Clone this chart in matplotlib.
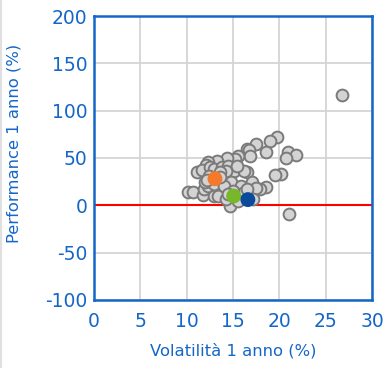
import numpy as np
import matplotlib.pyplot as plt
from matplotlib.lines import Line2D

plt.rcParams['axes.unicode_minus'] = False

# Volatilità e performance a 1 anno dei fondi della categoria
vol_peers = [26.8, 19.7, 18.95, 17.5, 16.5, 16.7, 16.8, 18.6, 20.9, 21.8, 20.75,
             20.2, 19.5, 18.6, 17.9, 21.0, 15.5, 15.2, 14.3, 13.3, 12.3, 12.1,
             11.1, 11.7, 12.5, 13.0, 13.8, 14.5, 15.07, 16.5, 16.2, 14.2, 13.6,
             10.15, 10.7, 11.75, 11.9, 12.3, 13.4, 12.9, 13.4, 14.65, 14.8, 15.9,
             17.0, 17.5, 17.15, 16.1, 14.2, 15.4, 12.0, 12.4, 13.0, 14.0, 15.0,
             15.5, 16.5, 14.5, 12.2, 13.6]
perf_peers = [116.5, 72.3, 67.7, 64.9, 60.0, 58.0, 52.6, 56.5, 56.5, 53.0, 50.2,
              33.4, 31.9, 19.7, 16.8, -9.5, 51.9, 49.0, 49.5, 46.6, 45.6, 43.0,
              35.5, 37.0, 40.0, 38.0, 40.5, 42.0, 36.1, 35.1, 36.0, 36.0, 35.0,
              14.0, 14.4, 10.5, 17.5, 20.0, 16.8, 10.0, 10.0, -0.7, 24.5, 20.3,
              24.5, 18.6, 7.0, 12.8, 6.3, 41.4, 25.0, 31.0, 22.0, 20.0, 15.0,
              5.0, 17.0, 12.0, 27.0, 30.0]

# Punti evidenziati
vol_hl = [13.05, 15.07, 16.6]
perf_hl = [28.1, 9.8, 6.0]
col_hl = ['#f5792a', '#76b82a', '#0a4a9c']

blue = '#1466c8'

fig = plt.figure(figsize=(3.9, 3.68), dpi=100)
ax = fig.add_axes([0.241, 0.185, 0.713, 0.7715])

ax.grid(True, color='#d4d4d4', linewidth=1.3)
ax.set_axisbelow(True)
ax.axhline(0, color='#ff0000', linewidth=1.5, zorder=2)

ax.scatter(vol_peers, perf_peers, s=72, facecolor='#d3d3d3',
           edgecolor='#7a7a7a', linewidth=1.4, zorder=3)
ax.scatter(vol_hl, perf_hl, s=115, c=col_hl, edgecolor='none', zorder=4)

ax.set_xlim(0, 30)
ax.set_ylim(-100, 200)
ax.set_xticks(np.arange(0, 31, 5))
ax.set_yticks(np.arange(-100, 201, 50))

for s in ax.spines.values():
    s.set_color(blue)
    s.set_linewidth(1.8)
ax.tick_params(length=0, colors=blue, labelsize=13.5)
ax.tick_params(axis='y', pad=4.5)
ax.tick_params(axis='x', pad=9)

ax.set_xlabel('Volatilità 1 anno (%)', color=blue, fontsize=11.8, labelpad=8)
ax.set_ylabel('Performance 1 anno (%)', color=blue, fontsize=11.8)
ax.yaxis.set_label_coords(-0.259, 0.553)

# bordo sottile a sinistra
fig.add_artist(Line2D([0.003, 0.003], [0, 1], color='#e0e0e0', linewidth=1.5,
                      transform=fig.transFigure))

fig.savefig('out.png', dpi=100)
